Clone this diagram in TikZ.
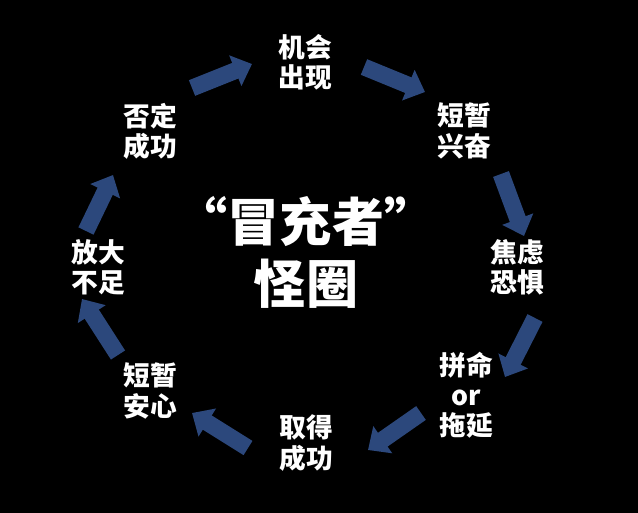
\documentclass[tikz,border=0pt]{standalone}
\usepackage{fontspec}
\newfontfamily\cjk{Noto Sans CJK SC}
\usetikzlibrary{arrows.meta}
\definecolor{loopblue}{RGB}{44,72,124}
\tikzset{
  steptext/.style={text=white,align=center,font=\cjk\bfseries\fontsize{19}{21.5}\selectfont},
  titletext/.style={text=white,align=center,font=\cjk\bfseries\fontsize{37}{44}\selectfont},
  loopcon/.style={loopblue,line width=0.42cm,-{Triangle[length=0.45cm,width=0.8cm]}}
}
\begin{document}
\begin{tikzpicture}[x=0.025cm,y=-0.025cm]
    \fill[black] (0,0) rectangle (638,513);
    \useasboundingbox (0,0) rectangle (638,513);
    % stages of the loop
    \node[steptext] (chance) at (305,62) {机会\\出现};
    \node[steptext] (excite) at (464,131) {短暂\\兴奋};
    \node[steptext] (fear) at (517,267) {焦虑\\恐惧};
    \node[steptext] (work) at (466,395) {拼命\\or\\拖延};
    \node[steptext] (success) at (306,443) {取得\\成功};
    \node[steptext] (relief) at (150,391) {短暂\\安心};
    \node[steptext] (magnify) at (98,267) {放大\\不足};
    \node[steptext] (deny) at (150,131) {否定\\成功};
    \node[titletext] (title) at (306,252) {“冒充者”\\怪圈};
    % arrow ends
    \coordinate (a1s) at (192,88);  \coordinate (a1e) at (252,64);
    \coordinate (a2s) at (364,67);  \coordinate (a2e) at (425,92);
    \coordinate (a3s) at (501,174); \coordinate (a3e) at (524,236);
    \coordinate (a4s) at (535,318); \coordinate (a4e) at (505,377);
    \coordinate (a5s) at (421,413); \coordinate (a5e) at (368,450);
    \coordinate (a6s) at (248,448); \coordinate (a6e) at (192,413);
    \coordinate (a7s) at (118,355); \coordinate (a7e) at (82,299);
    \coordinate (a8s) at (86,231);  \coordinate (a8e) at (113,175);
    \foreach \i in {1,...,8}
      \draw[loopcon] (a\i s) -- (a\i e);
\end{tikzpicture}
\end{document}
